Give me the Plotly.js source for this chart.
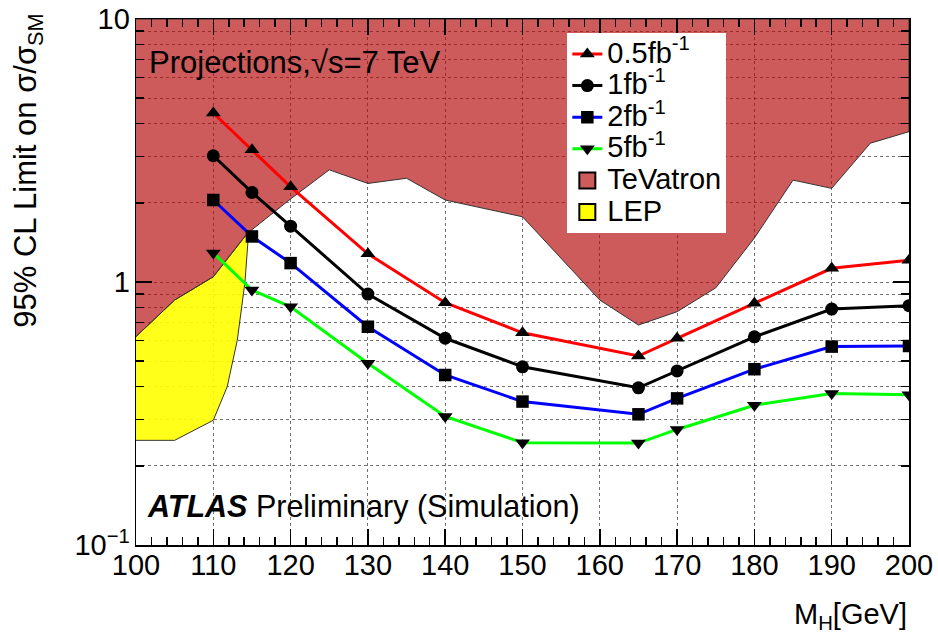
<!DOCTYPE html>
<html><head><meta charset="utf-8">
<script src="https://cdn.plot.ly/plotly-3.0.1.min.js"></script>
<style>html,body{margin:0;padding:0;background:#fff}#chart{width:938px;height:637px}</style>
</head><body><div id="chart"></div>
<script>
// ---- data ----
const massPoints = [110, 115, 120, 130, 140, 150, 165, 170, 180, 190, 200];
const limit05fb = [4.39, 3.18, 2.30, 1.28, 0.834, 0.641, 0.523, 0.611, 0.830, 1.127, 1.21];
const limit1fb  = [3.02, 2.19, 1.63, 0.90, 0.611, 0.476, 0.396, 0.459, 0.619, 0.789, 0.813];
const limit2fb  = [2.05, 1.49, 1.18, 0.676, 0.443, 0.351, 0.314, 0.361, 0.466, 0.568, 0.571];
const limit5fb  = [1.29, 0.932, 0.805, 0.491, 0.308, 0.245, 0.244, 0.275, 0.340, 0.377, 0.373];

const tevatronMass  = [100, 105, 110, 114.4, 120, 125, 130, 135, 140, 150, 160, 165, 170, 175, 180, 185, 190, 195, 200];
const tevatronLimit = [0.62, 0.854, 1.047, 1.53, 2.07, 2.67, 2.37, 2.48, 2.05, 1.77, 0.854, 0.686, 0.771, 0.95, 1.47, 2.44, 2.27, 3.37, 3.73];

const lepMass  = [100, 105, 110, 111.8, 113.1, 114.1, 114.5, 114.4, 110, 105, 100];
const lepLimit = [0.25, 0.25, 0.298, 0.40, 0.60, 1.0, 1.45, 1.53, 1.047, 0.854, 0.62];

const seriesNames = ['0.5fb<sup>-1</sup>', '1fb<sup>-1</sup>', '2fb<sup>-1</sup>', '5fb<sup>-1</sup>'];
const massRange = [100, 200];
const limitTop = 10;

// ---- styling ----
const FONT = "'Liberation Sans', Arial, Helvetica, sans-serif";
const tevFill = 'rgba(178,3,3,0.65)';
const tevLegend = 'rgb(205,92,92)';
const lepFill = 'rgba(255,255,0,0.9)';
const big = s => '<span style="font-size:29px">' + s + '</span>';

const tevPolyX = tevatronMass.concat([massRange[1], massRange[0]]);
const tevPolyY = tevatronLimit.concat([limitTop, limitTop]);

const traces = [
  {x: lepMass, y: lepLimit, type: 'scatter', mode: 'lines', fill: 'toself',
   fillcolor: lepFill, line: {color: '#333', width: 1}, showlegend: false, hoverinfo: 'skip'},
  {x: tevPolyX, y: tevPolyY, type: 'scatter', mode: 'lines', fill: 'toself',
   fillcolor: tevFill, line: {color: '#333', width: 1}, showlegend: false, hoverinfo: 'skip'},
  {x: massPoints, y: limit05fb, name: big(seriesNames[0]), mode: 'lines+markers', legendrank: 1,
   line: {color: '#ff0000', width: 3}, marker: {symbol: 'triangle-up', size: 13, color: 'black'}},
  {x: massPoints, y: limit1fb, name: big(seriesNames[1]), mode: 'lines+markers', legendrank: 2,
   line: {color: '#000000', width: 3}, marker: {symbol: 'circle', size: 13, color: 'black'}},
  {x: massPoints, y: limit2fb, name: big(seriesNames[2]), mode: 'lines+markers', legendrank: 3,
   line: {color: '#0000ff', width: 3}, marker: {symbol: 'square', size: 12.5, color: 'black'}},
  {x: massPoints, y: limit5fb, name: big(seriesNames[3]), mode: 'lines+markers', legendrank: 4,
   line: {color: '#00ff00', width: 3}, marker: {symbol: 'triangle-down', size: 13, color: 'black'}},
  {x: [null], y: [null], name: big('TeVatron'), mode: 'markers', legendrank: 5,
   marker: {symbol: 'square', size: 16, color: tevLegend, line: {color: 'black', width: 2}}},
  {x: [null], y: [null], name: big('LEP'), mode: 'markers', legendrank: 6,
   marker: {symbol: 'square', size: 16, color: '#ffff00', line: {color: 'black', width: 2}}}
];

const gridCol = 'rgba(0,0,0,0.55)';
const layout = {
  width: 938, height: 637,
  margin: {l: 136, r: 29, t: 19, b: 92},
  paper_bgcolor: 'white', plot_bgcolor: 'white',
  font: {family: FONT, color: 'black'},
  showlegend: true,
  legend: {x: 0.558, y: 0.973, xanchor: 'left', yanchor: 'top', bgcolor: 'white',
    borderwidth: 0, font: {size: 22, family: FONT, color: 'black'},
    itemwidth: 30, tracegroupgap: 0, traceorder: 'normal'},
  xaxis: {
    range: massRange, dtick: 10, tick0: 100,
    ticks: 'inside', ticklen: 16, tickwidth: 1.5, tickcolor: 'black',
    showline: true, linewidth: 1.5, linecolor: 'black', mirror: 'ticks',
    showgrid: true, gridcolor: gridCol, griddash: 'dot', gridwidth: 1,
    zeroline: false, layer: 'above traces', ticklabelstandoff: -6,
    tickfont: {size: 29, family: FONT, color: 'black'},
    minor: {dtick: 2, ticks: 'inside', ticklen: 8, tickwidth: 1.5, tickcolor: 'black', showgrid: false}
  },
  yaxis: {
    type: 'log', range: [-1, 1], dtick: 1, exponentformat: 'power',
    ticks: 'inside', ticklen: 16, tickwidth: 1.5, tickcolor: 'black',
    showline: true, linewidth: 1.5, linecolor: 'black', mirror: 'ticks',
    showgrid: true, gridcolor: gridCol, griddash: 'dot', gridwidth: 1,
    zeroline: false, layer: 'above traces',
    tickfont: {size: 23.2, family: FONT, color: 'black'},
    minor: {dtick: 'D1', ticks: 'inside', ticklen: 8, tickwidth: 1.5, tickcolor: 'black',
      showgrid: true, gridcolor: gridCol, griddash: 'dot', gridwidth: 1}
  },
  annotations: [
    {text: 'Projections,√s=7 TeV', xref: 'paper', yref: 'paper', x: 0.014, y: 0.918,
     xanchor: 'left', yanchor: 'middle', showarrow: false, font: {size: 31, family: FONT, color: 'black'}},
    {text: '<b><i>ATLAS</i></b> Preliminary (Simulation)', xref: 'paper', yref: 'paper', x: 0.012, y: 0.074,
     xanchor: 'left', yanchor: 'middle', showarrow: false, font: {size: 30.5, family: FONT, color: 'black'}},
    {text: 'M<sub>H</sub>[GeV]', xref: 'paper', yref: 'paper', x: 1.0, y: -0.135,
     xanchor: 'right', yanchor: 'middle', showarrow: false, font: {size: 29, family: FONT, color: 'black'}},
    {text: '95% CL Limit on σ/σ<sub>SM</sub>', xref: 'paper', yref: 'paper', x: -0.139, y: 1.013,
     xanchor: 'center', yanchor: 'top', textangle: -90, showarrow: false,
     font: {size: 31, family: FONT, color: 'black'}}
  ]
};

Plotly.newPlot('chart', traces, layout, {staticPlot: true, displayModeBar: false});
</script>
</body></html>
